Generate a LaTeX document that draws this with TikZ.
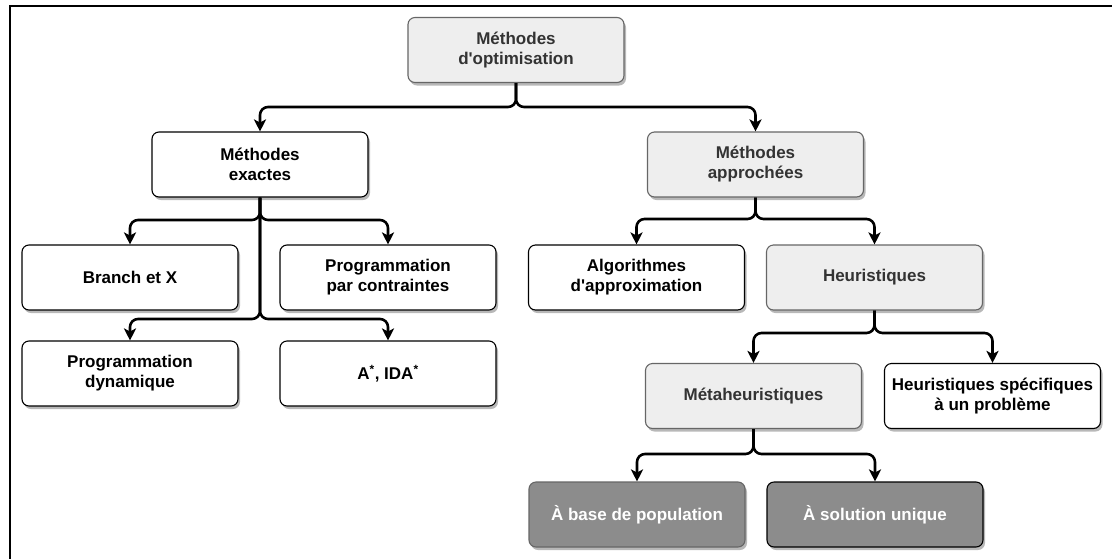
\documentclass[tikz,border=0pt]{standalone}
\usepackage{fontspec}
\setmainfont{Liberation Sans}[Ligatures=TeXOff]
\usetikzlibrary{arrows.meta,shadows}
\definecolor{lightfill}{HTML}{EEEEEE}
\definecolor{lightstroke}{HTML}{666666}
\definecolor{darkfill}{HTML}{8C8C8C}
\definecolor{graytext}{HTML}{333333}
\begin{document}
\begin{tikzpicture}[x=1pt, y=-1pt,
  box/.style={rectangle, rounded corners=7pt, draw=black, line width=1.1pt,
    fill=white, minimum width=216pt, minimum height=65pt, align=center,
    inner sep=0pt, text=black,
    font=\fontsize{17}{20}\selectfont\bfseries,
    drop shadow={shadow xshift=2pt, shadow yshift=-3pt, fill=black, opacity=0.28}},
  graybox/.style={box, fill=lightfill, draw=lightstroke, text=graytext},
  darkbox/.style={box, fill=darkfill, text=white},
  conn/.style={line width=2.6pt, rounded corners=8pt, line join=round,
    -{Stealth[length=12pt, width=12pt, inset=3pt]}},
  frameline/.style={line width=2pt}]
\useasboundingbox (0,0) rectangle (1112,558);

% outer frame (top and left edges)
\coordinate (fbl) at (10,560);
\coordinate (ftl) at (10,6);
\coordinate (ftr) at (1114,6);
\draw[frameline] (fbl) -- (ftl) -- (ftr);

% nodes
\node[graybox] (root) at (516,50) {Méthodes\\d'optimisation};
\node[box] (exact) at (260,164.5) {Méthodes\\exactes};
\node[graybox] (approx) at (755.5,164.5) {Méthodes\\approchées};
\node[box] (branch) at (130,277.5) {Branch et X};
\node[box] (ppc) at (388,277.5) {Programmation\\par contraintes};
\node[box] (algo) at (636.5,277.5) {Algorithmes\\d'approximation};
\node[graybox] (heur) at (874.5,277.5) {Heuristiques};
\node[box] (dyn) at (130,373.5) {Programmation\\dynamique};
\node[box] (astar) at (388,373.5) {A\textsuperscript{*}, IDA\textsuperscript{*}};
\node[graybox] (meta) at (753.5,396) {Métaheuristiques};
\node[box] (spec) at (992.5,396) {Heuristiques spécifiques\\à un problème};
\node[darkbox, draw=lightstroke] (pop) at (637,514.5) {À base de population};
\node[darkbox, draw=black] (single) at (875,514.5) {À solution unique};

% connectors
\draw[conn] (root.south) -- (root.south |- 0,107) -| (exact.north);
\draw[conn] (root.south) -- (root.south |- 0,107) -| (approx.north);

\draw[conn] (exact.south) -- (exact.south |- 0,220) -| (branch.north);
\draw[conn] (exact.south) -- (exact.south |- 0,220) -| (ppc.north);
\draw[conn] (exact.south) -- (exact.south |- 0,319) -| (dyn.north);
\draw[conn] (exact.south) -- (exact.south |- 0,319) -| (astar.north);

\draw[conn] (approx.south) -- (approx.south |- 0,219) -| (algo.north);
\draw[conn] (approx.south) -- (approx.south |- 0,219) -| (heur.north);

\draw[conn] (heur.south) -- (heur.south |- 0,333) -| (meta.north);
\draw[conn] (heur.south) -- (heur.south |- 0,333) -| (spec.north);

\draw[conn] (meta.south) -- (meta.south |- 0,454) -| (pop.north);
\draw[conn] (meta.south) -- (meta.south |- 0,454) -| (single.north);
\end{tikzpicture}
\end{document}
